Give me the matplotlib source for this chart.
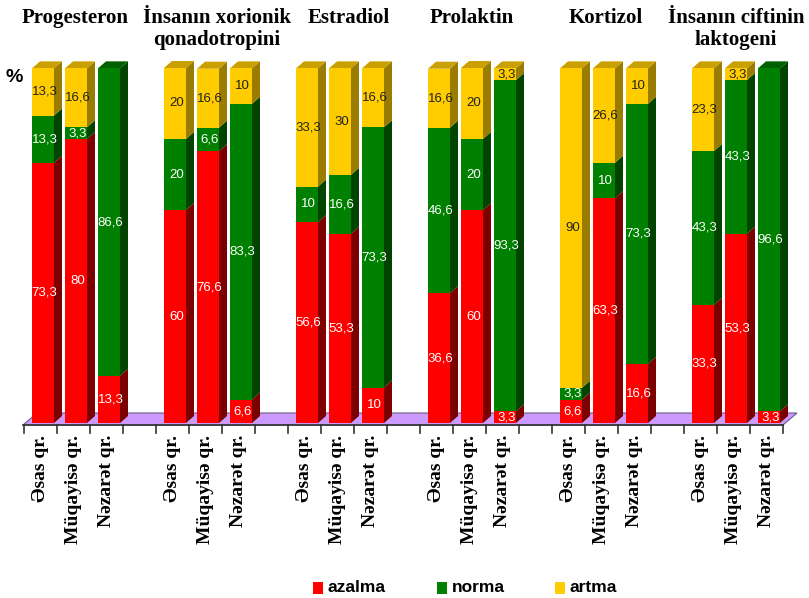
import matplotlib
matplotlib.use("Agg")
import matplotlib.pyplot as plt
from matplotlib.patches import Polygon, Rectangle

# data (azalma / norma / artma, %)
hormones = ["Progesteron", "İnsanın xorionik\nqonadotropini", "Estradiol",
            "Prolaktin", "Kortizol", "İnsanın ciftinin\nlaktogeni"]
groups = ["Əsas qr.", "Müqayisə qr.", "Nəzarət qr."]
series = ["azalma", "norma", "artma"]

azalma = [73.3, 80, 13.3, 60, 76.6, 6.6, 56.6, 53.3, 10,
          36.6, 60, 3.3, 6.6, 63.3, 16.6, 33.3, 53.3, 3.3]
norma = [13.3, 3.3, 86.6, 20, 6.6, 83.3, 10, 16.6, 73.3,
         46.6, 20, 93.3, 3.3, 10, 73.3, 43.3, 43.3, 96.6]
artma = [13.3, 16.6, 0, 20, 16.6, 10, 33.3, 30, 16.6,
         16.6, 20, 3.3, 90, 26.6, 10, 23.3, 3.3, 0]

front = ["#ff0000", "#008000", "#ffcc00"]
side = ["#7d0000", "#004400", "#9a7c00"]
top = ["#b00000", "#006000", "#c9a000"]
label_col = ["white", "white", "#222222"]

W, H = 809, 598
SLOT, PXU = 33.0, 3.55  # pixels per slot / per percent


def X(px):
    return (px - 43) / SLOT


def Y(py):
    return (423 - py) / PXU


fig = plt.figure(figsize=(W / 100, H / 100), dpi=100)
ax = fig.add_axes([0, 0, 1, 1])
ax.set_xlim(X(0), X(W))
ax.set_ylim(Y(H), Y(0))
ax.axis("off")

bw = 22 / SLOT
dx, dy = 8 / SLOT, 7 / PXU

# floor
ax.add_patch(Polygon([(X(23), Y(425)), (X(783), Y(425)), (X(797), Y(413)), (X(37), Y(413))],
                     closed=True, facecolor="#cc99ff", edgecolor="#6a5a80", lw=0.8, zorder=0))
ax.plot([X(23), X(783)], [Y(425), Y(425)], color="#333333", lw=1.2, zorder=1)
for k in range(24):
    ax.plot([k - 0.576, k - 0.576], [Y(425), Y(433)], color="#333333", lw=1.2, zorder=1)

pos = [g * 4 + b for g in range(len(hormones)) for b in range(3)]
data = [azalma, norma, artma]

for i, p in enumerate(pos):
    bottom = 0
    vals = [d[i] for d in data]
    last = max(j for j in range(3) if vals[j] > 0)
    for j, v in enumerate(vals):
        if v <= 0:
            continue
        ax.bar(p, v, width=bw, bottom=bottom, color=front[j], lw=0, zorder=3)
        x1 = p + bw / 2
        ax.add_patch(Polygon([(x1, bottom), (x1 + dx, bottom + dy), (x1 + dx, bottom + v + dy),
                              (x1, bottom + v)], closed=True, facecolor=side[j], lw=0, zorder=2))
        if j == last:
            x0 = p - bw / 2
            t = bottom + v
            ax.add_patch(Polygon([(x0, t), (x0 + dx, t + dy), (x1 + dx, t + dy), (x1, t)],
                                 closed=True, facecolor=top[j], lw=0, zorder=2))
        txt = ("%d" % v) if v == int(v) else ("%.1f" % v).replace(".", ",")
        ax.text(p + 0.05, bottom + v / 2, txt, ha="center", va="center", fontsize=9.5,
                color=label_col[j], family="Liberation Sans", zorder=4)
        bottom += v
    ax.text(p - 0.09, Y(435), groups[i % 3], rotation=90, ha="center", va="top",
            fontsize=14, fontweight="bold", family="Liberation Serif")

title_shift = [-1, 9, 9, 0, 2, 0]  # px
for g, name in enumerate(hormones):
    ax.text(g * 4 + 1 + title_shift[g] / SLOT, Y(8), name, ha="center", va="top", fontsize=15,
            fontweight="bold", family="Liberation Serif", linespacing=1.1)

ax.text(X(14), Y(78), "%", ha="center", va="center", fontsize=14, fontweight="bold",
        family="Liberation Sans")

# legend
for j, (sx, name) in enumerate(zip([313, 437, 555], series)):
    ax.add_patch(Rectangle((X(sx), Y(594)), 10 / SLOT, 12 / PXU, facecolor=front[j], lw=0))
    ax.text(X(sx + 15), Y(588), name, ha="left", va="center", fontsize=12.5,
            fontweight="bold", family="Liberation Sans")

fig.savefig("out.png", dpi=100)
